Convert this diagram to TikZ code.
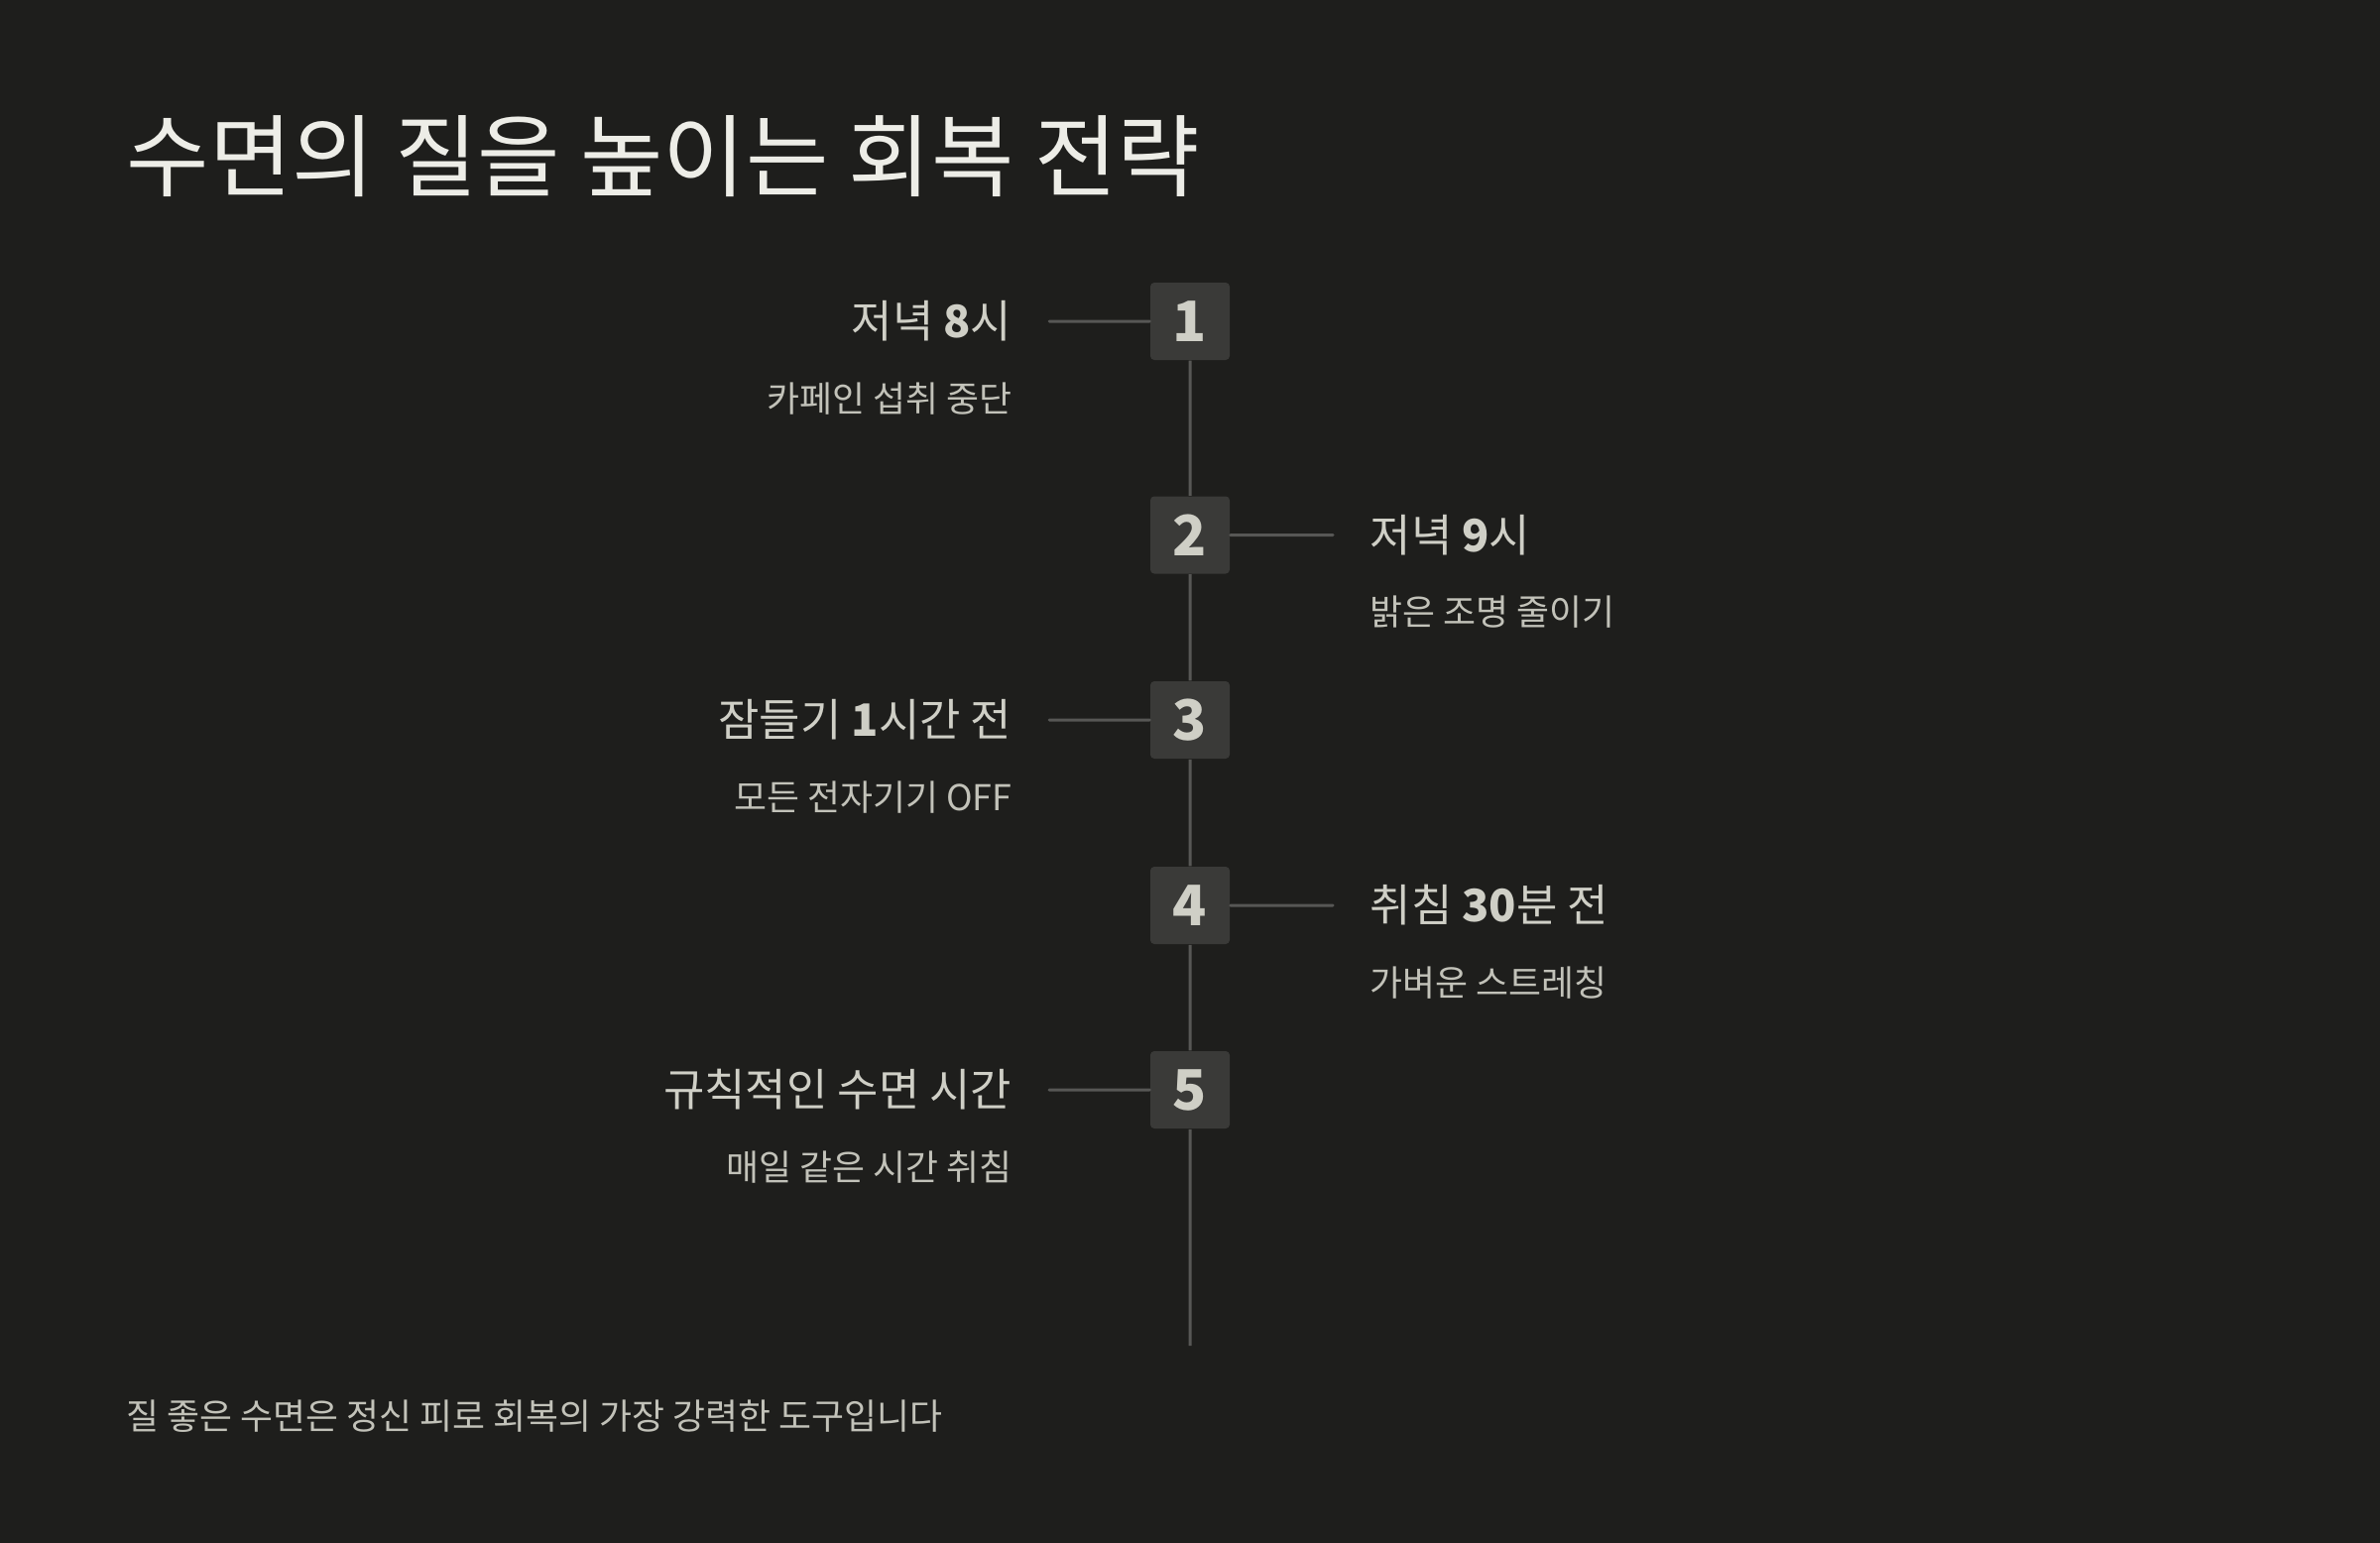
\documentclass[tikz,border=0pt]{standalone}
\usepackage{fontspec}
\setmainfont{Noto Sans CJK KR}
\definecolor{bgdark}{HTML}{1E1E1C}
\definecolor{titlewhite}{HTML}{EDEDE7}
\definecolor{labelgray}{HTML}{CFCFC6}
\definecolor{subgray}{HTML}{C2C2B9}
\definecolor{boxgray}{HTML}{3A3A38}
\definecolor{linegray}{HTML}{575755}

\begin{document}
\begin{tikzpicture}[scale=0.1,
    numbox/.style={fill=boxgray, rounded corners=0.4mm, minimum width=8mm, minimum height=7.8mm, text=labelgray, font=\fontsize{16}{16}\selectfont\bfseries},
    spine/.style={draw=linegray, line width=0.85pt},
    tick/.style={draw=linegray, line width=0.85pt, line cap=round},
    headtxt/.style={text=labelgray, font=\fontsize{12.8}{15}\selectfont},
    subtxt/.style={text=subgray, font=\fontsize{10.2}{12}\selectfont}]
                        \tikzstyle{every node}+=[inner sep=0pt]
                        \fill [bgdark] (0,0) rectangle (240,-155.6);
                        \useasboundingbox (0,0) rectangle (240,-155.6);
                        \node [anchor=west, text=titlewhite, font=\fontsize{25.8}{30}\selectfont] (title) at (12.7,-15.8) {수면의 질을 높이는 회복 전략};
                        \node [numbox] (b1) at (120,-32.4) {1};
                        \node [numbox] (b2) at (120,-53.95) {2};
                        \node [numbox] (b3) at (120,-72.6) {3};
                        \node [numbox] (b4) at (120,-91.3) {4};
                        \node [numbox] (b5) at (120,-109.9) {5};
                        \coordinate (tail) at (120,-135.7);
                        \draw [spine] (b1) -- (b2);
                        \draw [spine] (b2) -- (b3);
                        \draw [spine] (b3) -- (b4);
                        \draw [spine] (b4) -- (b5);
                        \draw [spine] (b5) -- (tail);
                        \coordinate (l1) at (105.8,-32.4);
                        \coordinate (r2) at (134.4,-53.95);
                        \coordinate (l3) at (105.8,-72.6);
                        \coordinate (r4) at (134.4,-91.3);
                        \coordinate (l5) at (105.8,-109.9);
                        \draw [tick] (l1) -- (b1);
                        \draw [tick] (b2) -- (r2);
                        \draw [tick] (l3) -- (b3);
                        \draw [tick] (b4) -- (r4);
                        \draw [tick] (l5) -- (b5);
                        \node [headtxt, anchor=east] (h1) at (102.1,-32.4) {저녁 {\bfseries 8}시};
                        \node [subtxt, anchor=east] (s1) at (102.1,-40.2) {카페인 섭취 중단};
                        \node [headtxt, anchor=west] (h2) at (138.1,-53.95) {저녁 {\bfseries 9}시};
                        \node [subtxt, anchor=west] (s2) at (138.1,-61.75) {밝은 조명 줄이기};
                        \node [headtxt, anchor=east] (h3) at (102.1,-72.6) {잠들기 {\bfseries 1}시간 전};
                        \node [subtxt, anchor=east] (s3) at (102.1,-80.4) {모든 전자기기 OFF};
                        \node [headtxt, anchor=west] (h4) at (138.1,-91.3) {취침 {\bfseries 30}분 전};
                        \node [subtxt, anchor=west] (s4) at (138.1,-99.1) {가벼운 스트레칭};
                        \node [headtxt, anchor=east] (h5) at (102.1,-109.9) {규칙적인 수면 시간};
                        \node [subtxt, anchor=east] (s5) at (102.1,-117.7) {매일 같은 시간 취침};
                        \node [subtxt, anchor=west] (foot) at (12.7,-142.8) {질 좋은 수면은 정신 피로 회복의 가장 강력한 도구입니다};
                    \end{tikzpicture}
\end{document}
